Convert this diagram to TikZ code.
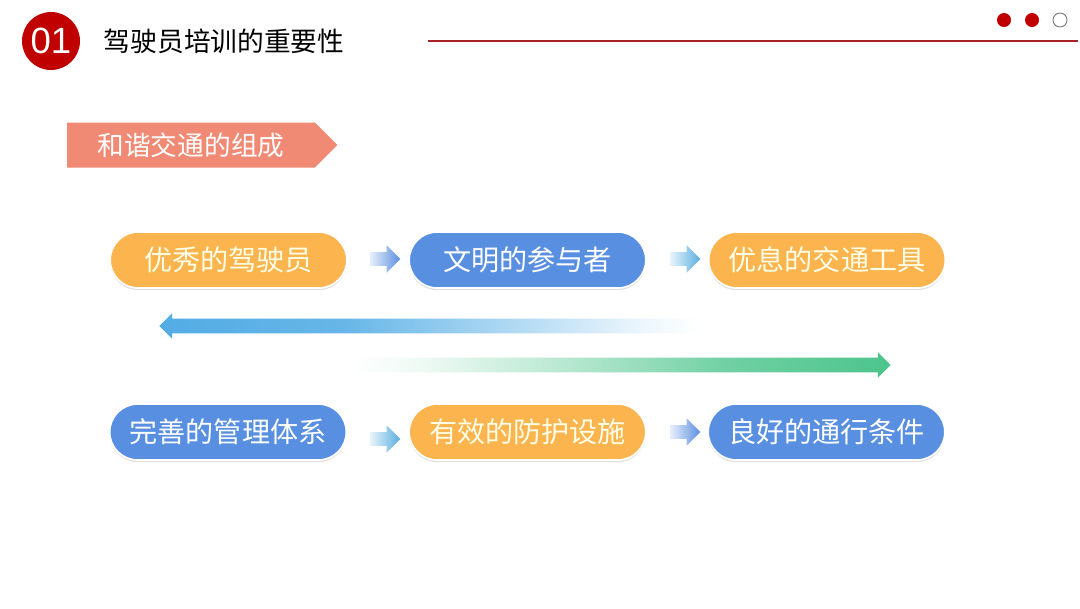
\documentclass[tikz,border=0pt]{standalone}
\usepackage{fontspec}
\usepackage{tikz}
\usetikzlibrary{positioning,calc,shapes.misc,shapes.symbols,shapes.arrows,shadows}
\newfontfamily\cjk{Noto Sans CJK SC}
\newfontfamily\numfont{Liberation Sans}
\definecolor{hdred}{HTML}{C00000}
\definecolor{hdline}{HTML}{A8202A}
\definecolor{bannerc}{HTML}{F08A74}
\definecolor{pillor}{HTML}{FBB44E}
\definecolor{pillbl}{HTML}{588FE0}
\definecolor{arrbl}{HTML}{5A8FE0}
\definecolor{arrtl}{HTML}{5AAEE0}
\definecolor{longbl}{HTML}{52ACE4}
\definecolor{longgr}{HTML}{4CC48C}
\pgfdeclarehorizontalshading{bluefade}{100bp}{color(0bp)=(longbl);
  color(25bp)=(longbl); color(42bp)=(longbl!88); color(58bp)=(longbl!45);
  color(70bp)=(longbl!10); color(75bp)=(white); color(100bp)=(white)}
\pgfdeclarehorizontalshading{greenfade}{100bp}{color(0bp)=(white);
  color(25bp)=(white); color(32bp)=(longgr!10); color(45bp)=(longgr!40);
  color(60bp)=(longgr!80); color(75bp)=(longgr); color(100bp)=(longgr)}
\tikzset{
  pill/.style={rounded rectangle,minimum width=6.15cm,minimum height=1.4cm,
    draw=white,line width=1.2pt,text=white,font=\cjk\fontsize{20}{20}\selectfont,
    drop shadow={shadow xshift=0pt,shadow yshift=-1.5pt,opacity=0.12,fill=black}},
  orpill/.style={pill,fill=pillor,text=white!90!yellow},
  blpill/.style={pill,fill=pillbl},
  stepar/.style={single arrow,minimum height=0.75cm,minimum width=0.675cm,
    inner xsep=0pt,inner ysep=0.1625cm,single arrow head extend=0.175cm},
  longar/.style={single arrow,minimum height=13.5cm,minimum width=0.625cm,
    inner xsep=0pt,inner ysep=0.175cm,single arrow head extend=0.1375cm}
}

\begin{document}
\begin{tikzpicture}[x=0.025cm,y=-0.025cm,
  dot/.style={circle,minimum size=0.35cm,inner sep=0pt}]
\useasboundingbox[fill=white] (0,0) rectangle (1080,608);
% header
\node[circle,fill=hdred,minimum size=1.45cm,inner sep=0pt,text=white,
  font=\numfont\fontsize{26}{26}\selectfont] (num) at (51,41) {01};
\node[anchor=west,font=\cjk\fontsize{19}{19}\selectfont] (title) at (99,41)
  {驾驶员培训的重要性};
\coordinate (ls) at (428,41);
\coordinate (le) at (1078,41);
\draw[hdline,line width=1pt] (ls) -- (le);
\node[dot,fill=hdred] (d1) at (1004,20) {};
\node[dot,fill=hdred] (d2) at (1032,20) {};
\node[dot,draw=black!55,line width=0.6pt] (d3) at (1060,20) {};
% banner
\node[signal,signal to=east,fill=bannerc,minimum width=6.75cm,
  minimum height=1.125cm,inner sep=0pt,text=white,
  font=\cjk\fontsize{19}{19}\selectfont] (banner) at (191,145) {和谐交通的组成};
% first row
\node[orpill] (p1) at (228.5,260) {优秀的驾驶员};
\node[blpill] (p2) at (527.5,260) {文明的参与者};
\node[orpill] (p3) at (827,260) {优息的交通工具};
\node[stepar,left color=white!85!arrbl,right color=arrbl] (a1) at (382,259) {};
\node[stepar,left color=white!85!arrtl,right color=arrtl] (a2) at (682,259) {};
% long arrows
\node[longar,shape border rotate=180,shading=bluefade] (back) at (433,326) {};
\node[longar,shading=greenfade] (fwd) at (617,365) {};
% second row
\node[blpill] (q1) at (228,432) {完善的管理体系};
\node[orpill] (q2) at (527.5,432) {有效的防护设施};
\node[blpill] (q3) at (826.5,432) {良好的通行条件};
\node[stepar,left color=white!85!arrtl,right color=arrtl] (b1) at (382,439) {};
\node[stepar,left color=white!85!arrbl,right color=arrbl] (b2) at (682,432) {};
\end{tikzpicture}
\end{document}
